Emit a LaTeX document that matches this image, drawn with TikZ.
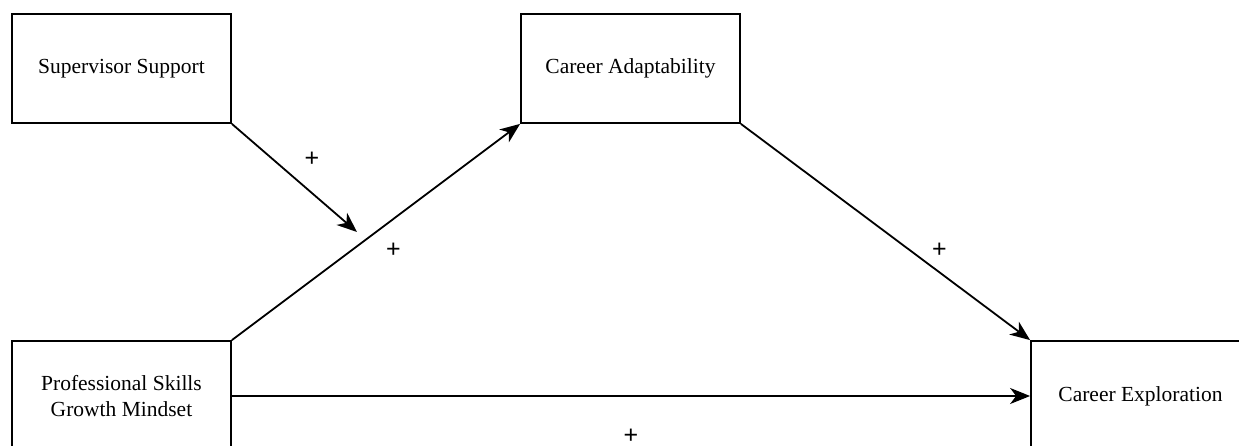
\documentclass[tikz,border=0pt]{standalone}
\usepackage{fontspec}
\setmainfont{Liberation Serif}
\newfontfamily\plusfont{Liberation Sans}
\usetikzlibrary{arrows.meta}
\begin{document}
\begin{tikzpicture}[x=1pt,y=-1pt,
  box/.style={draw=black,line width=1.8pt,minimum width=219pt,minimum height=109pt,inner sep=0pt,font=\fontsize{21.5}{26}\selectfont,align=center},
  conn/.style={line width=1.8pt,-{Stealth[length=20pt,width=16pt,inset=6pt]}},
  plus/.style={font=\plusfont\fontsize{25}{28}\selectfont,inner sep=0pt}]
\useasboundingbox (0,0) rectangle (1239,446);
\clip (0,0) rectangle (1239,446);
\fill[white] (0,0) rectangle (1239,446);
\node[box] (sup) at (121.5,68.5) {Supervisor Support};
\node[box] (ca) at (630.5,68.5) {Career Adaptability};
\node[box,minimum height=110pt] (psg) at (121.5,396) {Professional Skills\\Growth Mindset};
\node[box,minimum height=110pt] (ce) at (1140.5,396) {Career Exploration};
\coordinate (mod) at (357,232);
\draw[conn] (sup.south east) -- (mod);
\draw[conn] (psg.north east) -- (ca.south west);
\draw[conn] (ca.south east) -- (ce.north west);
\draw[conn] (psg.east) -- (ce.west);
\node[plus] (p1) at (312,159) {+};
\node[plus] (p2) at (393.5,250) {+};
\node[plus] (p3) at (939.5,250) {+};
\node[plus] (p4) at (631,436) {+};
\end{tikzpicture}
\end{document}
